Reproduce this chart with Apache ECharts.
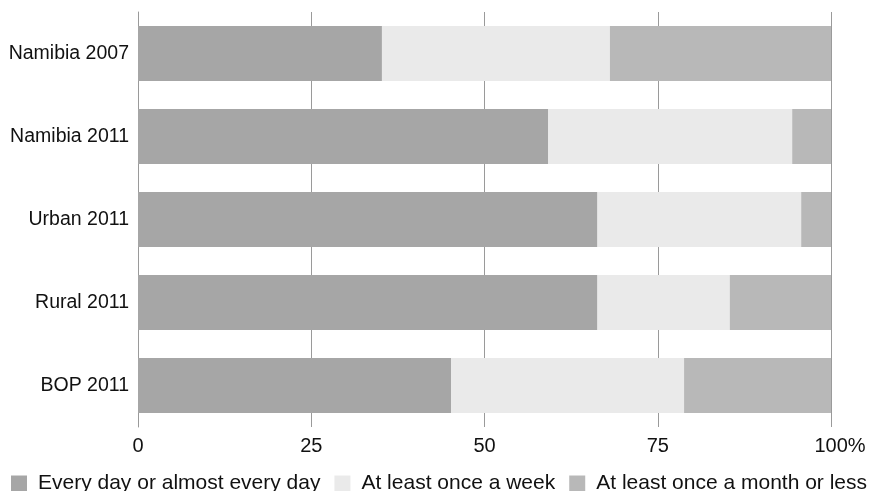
<!DOCTYPE html>
<html>
<head>
<meta charset="utf-8">
<script src="https://cdn.jsdelivr.net/npm/echarts@6/dist/echarts.min.js"></script>
<style>
html,body{margin:0;padding:0;background:#fff;}
#chart{width:874px;height:491px;}
</style>
</head>
<body>
<div id="chart"></div>
<script>
const categories = ['Namibia 2007', 'Namibia 2011', 'Urban 2011', 'Rural 2011', 'BOP 2011'];
const seriesNames = ['Every day or almost every day', 'At least once a week', 'At least once a month or less'];
const everyDay = [35.2, 59.2, 66.3, 66.3, 45.2];
const weekly = [32.9, 35.2, 29.4, 19.1, 33.6];
const monthly = [31.9, 5.6, 4.3, 14.6, 21.2];
const xTicks = [0, 25, 50, 75, 100];

const colors = ['#a6a6a6', '#eaeaea', '#b8b8b8'];
const values = [everyDay, weekly, monthly];
const font = 'Liberation Sans, Arial, sans-serif';

const chart = echarts.init(document.getElementById('chart'), null, {renderer: 'canvas'});
chart.setOption({
  animation: false,
  backgroundColor: '#ffffff',
  grid: {left: 138, right: 43, top: 12, bottom: 64, containLabel: false},
  xAxis: {
    type: 'value', min: xTicks[0], max: xTicks[xTicks.length - 1], interval: 25,
    axisLine: {show: false}, axisTick: {show: false},
    splitLine: {show: true, lineStyle: {color: '#9a9a9a', width: 1}},
    axisLabel: {
      color: '#111', fontFamily: font, fontSize: 20, margin: 9,
      formatter: v => v === 100 ? '{s|}100%' : String(v),
      rich: {s: {width: 18}}
    }
  },
  yAxis: {
    type: 'category', data: categories, inverse: true,
    axisLine: {show: true, lineStyle: {color: '#9a9a9a', width: 1}},
    axisTick: {show: false},
    axisLabel: {color: '#111', fontFamily: font, fontSize: 19.5, margin: 9}
  },
  legend: {
    data: seriesNames, left: 6, top: 468, icon: 'rect',
    itemWidth: 16, itemHeight: 16, itemGap: 14,
    textStyle: {color: '#111', fontFamily: font, fontSize: 21, padding: [0, 0, 0, 6]}
  },
  series: seriesNames.map((n, i) => ({
    name: n, type: 'bar', stack: 'total', barWidth: 55,
    itemStyle: {color: colors[i]},
    data: values[i]
  }))
});
</script>
</body>
</html>
